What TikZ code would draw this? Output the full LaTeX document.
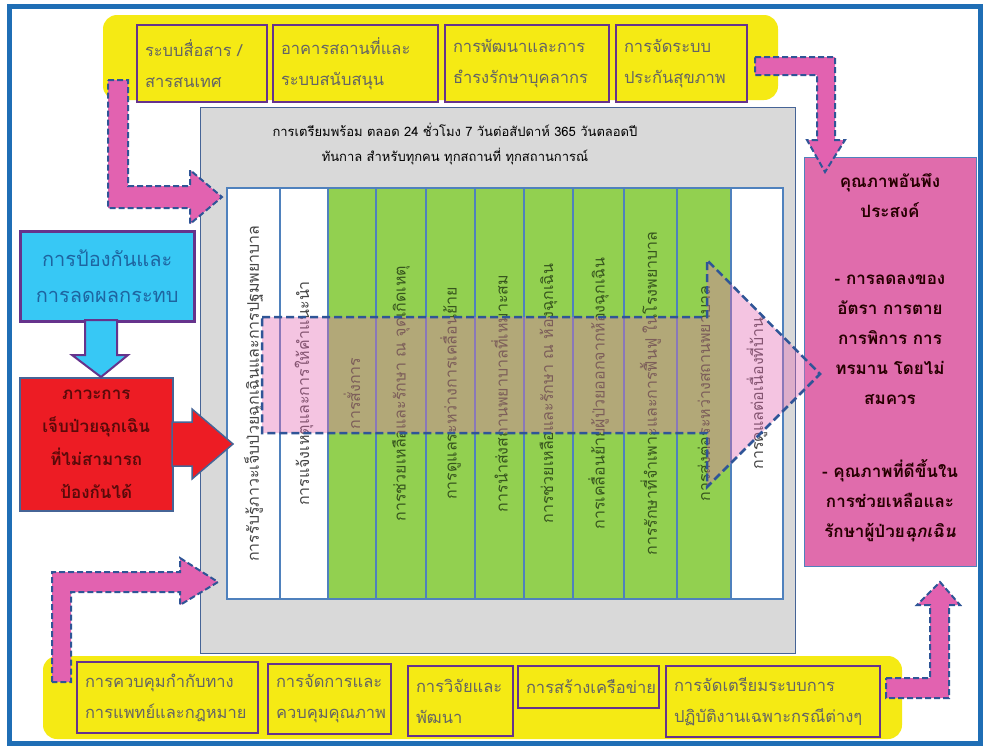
\documentclass[tikz,border=0pt]{standalone}
\usepackage{fontspec}
\setmainfont{Loma}[Script=Thai]
\definecolor{frameblue}{RGB}{31,110,181}
\definecolor{bandyellow}{RGB}{245,234,20}
\definecolor{boxpurple}{RGB}{102,51,140}
\definecolor{boxtext}{RGB}{100,100,100}
\definecolor{panelgray}{RGB}{217,217,217}
\definecolor{paneledge}{RGB}{70,100,150}
\definecolor{colblue}{RGB}{79,129,189}
\definecolor{colgreen}{RGB}{146,208,80}
\definecolor{greentext}{RGB}{55,85,30}
\definecolor{coltext}{RGB}{70,70,70}
\definecolor{qualpink}{RGB}{224,108,172}
\definecolor{arrowpink}{RGB}{226,98,176}
\definecolor{dashblue}{RGB}{47,85,151}
\definecolor{prevcyan}{RGB}{55,200,245}
\definecolor{prevtext}{RGB}{30,100,160}
\definecolor{emred}{RGB}{237,28,36}
\definecolor{emtext}{RGB}{90,10,10}
\definecolor{bigpink}{RGB}{228,108,180}
\begin{document}
\begin{tikzpicture}[x=1pt,y=-1pt,
  tbox/.style={draw=boxpurple, line width=2pt, fill=bandyellow, anchor=north west,
    inner xsep=8pt, inner ysep=0pt, text=boxtext, align=left,
    font=\fontsize{16.5}{31}\selectfont},
  colbox/.style={draw=colblue, line width=1.5pt, minimum width=411, inner sep=0pt,
    font=\fontsize{16}{18}\selectfont},
  pinkarrow/.style={fill=arrowpink, draw=dashblue, line width=2pt, dash pattern=on 6pt off 3pt},
  panel/.style={draw, inner sep=0pt, anchor=north west}
]
\useasboundingbox (0,0) rectangle (986,748);
\fill[white] (0,0) rectangle (986,748);
% outer frame
\draw[frameblue, line width=5pt] (9,6) rectangle (980,743);
% yellow bands
\fill[bandyellow, rounded corners=14pt] (103,15) rectangle (778,100);
\fill[bandyellow, rounded corners=14pt] (43,656) rectangle (902,739);
% top boxes
\node[tbox, minimum height=77, text width=114] (s1) at (136,24) {ระบบสื่อสาร /\\สารสนเทศ};
\node[tbox, minimum height=77, text width=149] (s2) at (272,24) {อาคารสถานที่และ\\ระบบสนับสนุน};
\node[tbox, minimum height=77, text width=148] (s3) at (444,24) {การพัฒนาและการ\\ธำรงรักษาบุคลากร};
\node[tbox, minimum height=77, text width=115] (s4) at (615,24) {การจัดระบบ\\ประกันสุขภาพ};
% bottom boxes
\node[tbox, minimum height=71, text width=165] (b1) at (76,661) {การควบคุมกำกับทาง\\การแพทย์และกฎหมาย};
\node[tbox, minimum height=70, text width=107] (b2) at (267,663) {การจัดการและ\\ควบคุมคุณภาพ};
\node[tbox, minimum height=70, text width=89] (b3) at (407,665) {การวิจัยและ\\พัฒนา};
\node[tbox, minimum height=42, text width=125] (b4) at (517,665) {การสร้างเครือข่าย};
\node[tbox, minimum height=71, text width=198] (b5) at (665,665) {การจัดเตรียมระบบการ\\ปฏิบัติงานเฉพาะกรณีต่างๆ};
% gray panel
\node[panel, draw=paneledge, line width=1pt, fill=panelgray, minimum width=595, minimum height=546] (panel) at (200,107) {};
\node[font=\fontsize{13}{20}\selectfont] (title1) at (455,130) {การเตรียมพร้อม ตลอด 24 ชั่วโมง 7 วันต่อสัปดาห์ 365 วันตลอดปี};
\node[font=\fontsize{13}{20}\selectfont] (title2) at (455,157) {ทันกาล สำหรับทุกคน ทุกสถานที่ ทุกสถานการณ์};
% columns
\foreach \l/\r/\f/\c/\t [count=\i] in {
227/280/white/coltext/การรับรู้ภาวะเจ็บป่วยฉุกเฉินและการปฐมพยาบาล,
280/328/white/coltext/การแจ้งเหตุและการให้คำแนะนำ,
328/376/colgreen/greentext/การสั่งการ,
376/426/colgreen/greentext/การช่วยเหลือและรักษา ณ จุดเกิดเหตุ,
426/475/colgreen/greentext/การดูแลระหว่างการเคลื่อนย้าย,
475/524/colgreen/greentext/การนำส่งสถานพยาบาลที่เหมาะสม,
524/573/colgreen/greentext/การช่วยเหลือและรักษา ณ ห้องฉุกเฉิน,
573/624/colgreen/greentext/การเคลื่อนย้ายผู้ป่วยออกจากห้องฉุกเฉิน,
624/677/colgreen/greentext/การรักษาที่จำเพาะและการฟื้นฟู ในโรงพยาบาล,
677/731/colgreen/greentext/การส่งต่อระหว่างสถานพยาบาล,
731/783/white/coltext/การดูแลต่อเนื่องที่บ้าน}
{
  \pgfmathsetmacro\cx{(\l+\r)/2}
  \pgfmathsetmacro\w{\r-\l}
  \node[colbox, fill=\f, text=\c, minimum height=\w, rotate=90] (col\i) at (\cx,393.5) {\t};
}
% quality box
\node[panel, draw=colblue, line width=1pt, fill=qualpink, minimum width=172, minimum height=409] (qual) at (804,157) {};
\node[anchor=north, align=center, text=black!85!red, font=\bfseries\fontsize{17}{30}\selectfont] (qualtext) at (890,170)
 {คุณภาพอันพึง\\ประสงค์\\[37pt]- การลดลงของ\\อัตรา การตาย\\การพิการ การ\\ทรมาน โดยไม่\\สมควร\\[43pt]- คุณภาพที่ดีขึ้นใน\\การช่วยเหลือและ\\รักษาผู้ป่วย\textit{ฉุกเฉิน}};
% big translucent arrow
\draw[fill=bigpink, fill opacity=0.4, draw=dashblue, line width=2.5pt, dash pattern=on 8pt off 4pt]
  (262,317) -- (707,317) -- (707,260) -- (820,374) -- (707,487) -- (707,433) -- (262,433) -- cycle;
% prevention box and arrow
\node[panel, draw=boxpurple, line width=2.5pt, fill=prevcyan, minimum width=174, minimum height=90, align=center,
  text=prevtext, font=\fontsize{20}{36}\selectfont] (prev) at (19,230) {การป้องกันและ\\การลดผลกระทบ};
\node[panel, draw=paneledge, line width=1.5pt, fill=emred, minimum width=153, minimum height=133, align=center,
  text=emtext, font=\bfseries\fontsize{17}{33}\selectfont] (emerg) at (19,377) {ภาวะการ\\เจ็บป่วยฉุกเฉิน\\ที่ไม่สามารถ\\ป้องกันได้};
\draw[fill=prevcyan, draw=boxpurple, line width=2pt]
  (85,320) -- (117,320) -- (117,355) -- (128,355) -- (101,377) -- (72,355) -- (85,355) -- cycle;
\draw[fill=emred, draw=paneledge, line width=1.5pt]
  (172,422) -- (192,422) -- (192,409) -- (233,444) -- (192,479) -- (192,466) -- (172,466) -- cycle;
% dashed pink L arrows
\draw[pinkarrow] (108,80) -- (128,80) -- (128,186) -- (190,186) -- (190,170) -- (222,197) -- (190,224) -- (190,208) -- (108,208) -- cycle;
\draw[pinkarrow] (755,57) -- (835,57) -- (835,140) -- (845,140) -- (825,172) -- (807,140) -- (817,140) -- (817,75) -- (755,75) -- cycle;
\draw[pinkarrow] (52,682) -- (52,572) -- (180,572) -- (180,558) -- (218,582) -- (180,605) -- (180,592) -- (71,592) -- (71,682) -- cycle;
\draw[pinkarrow] (886,678) -- (930,678) -- (930,605) -- (917,605) -- (940,582) -- (960,605) -- (949,605) -- (949,698) -- (886,698) -- cycle;
\end{tikzpicture}
\end{document}
